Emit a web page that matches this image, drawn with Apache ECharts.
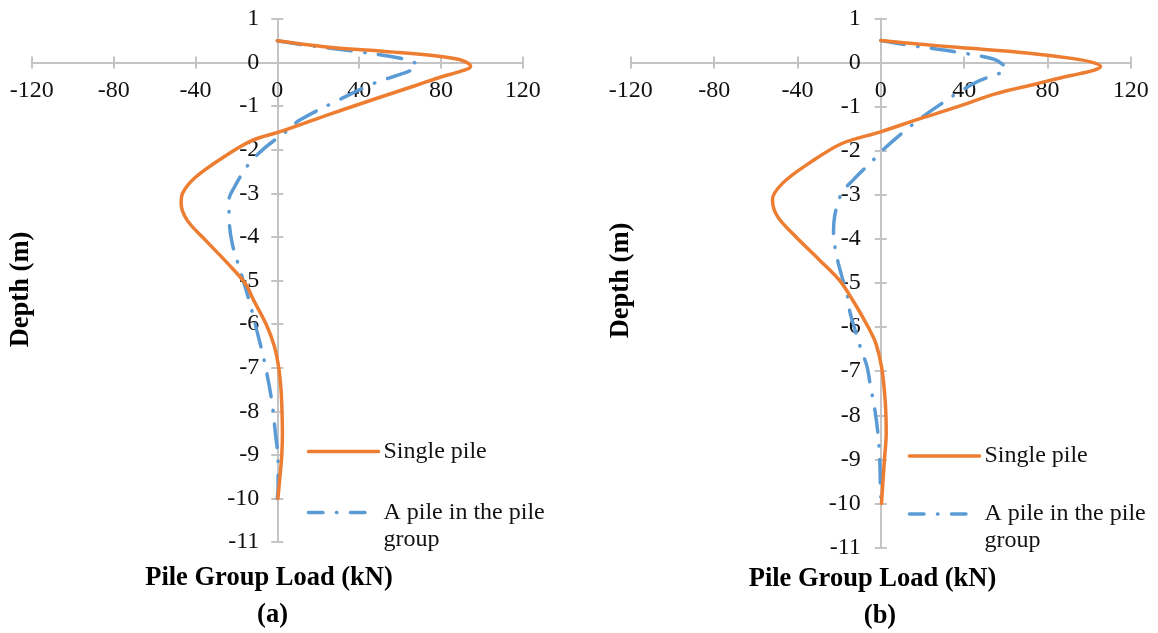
<!DOCTYPE html>
<html>
<head>
<meta charset="utf-8">
<script src="https://cdn.jsdelivr.net/npm/echarts@6/dist/echarts.min.js"></script>
<style>
html,body{margin:0;padding:0;background:#fff;}
#chart{width:1158px;height:633px;}
</style>
</head>
<body>
<div id="chart"></div>
<script>
// ---- Data (load in kN vs depth in m) ----
const xTicks = [-120, -80, -40, 0, 40, 80, 120];
const yTicks = [1, 0, -1, -2, -3, -4, -5, -6, -7, -8, -9, -10, -11];
const seriesNames = ['Single pile', 'A pile in the pile group'];

// (a) single pile
const aSingleDepth = [0.5, 0.36, 0.24, 0.14, 0.07, -0.02, -0.09, -0.18, -0.33, -0.52, -0.83, -1.21, -1.59, -1.78, -2.13, -2.63, -3.0, -3.24, -3.62, -4.08, -4.62, -5.08, -5.46, -6.0, -6.5, -7.0, -7.5, -8.0, -8.5, -9.0, -9.5, -10];
const aSingleLoad  = [0, 24, 57, 80, 89, 93.5, 94.5, 91, 80, 68, 48, 24, 1, -12, -25, -40, -46.3, -47, -44, -35, -24, -15.5, -11.5, -5.5, -1.5, 0.7, 1.8, 2.3, 2.5, 2.2, 1.3, 0.3];
// (a) pile in group
const aGroupDepth = [0.5, 0.4, 0.27, 0.13, 0.01, -0.06, -0.14, -0.25, -0.48, -0.86, -1.32, -1.63, -1.94, -2.32, -2.86, -3.16, -3.62, -4.16, -4.7, -5.15, -5.5, -6.15, -6.84, -7.76, -8.52, -9.14, -9.75, -10];
const aGroupLoad  = [0, 14, 36, 57, 66.5, 68.5, 67, 61.5, 47, 30, 11, 3, -5.7, -13.8, -21, -23.6, -23.5, -22, -18.6, -15.7, -13.5, -10, -6.4, -2.7, -0.9, 0.4, 0.4, 0];
// (b) single pile
const bSingleDepth = [0.5, 0.42, 0.34, 0.22, 0.09, 0.0, -0.09, -0.17, -0.25, -0.36, -0.48, -0.71, -1.0, -1.3, -1.57, -1.83, -2.28, -2.74, -3.11, -3.49, -3.95, -4.47, -4.93, -5.38, -6.02, -6.38, -6.9, -7.66, -8.4, -9.0, -9.6, -10];
const bSingleLoad  = [0, 18, 38, 70, 92.5, 102, 105.5, 102.5, 95.5, 85, 75, 55, 37, 17, 0, -18.4, -34.3, -47.2, -52, -49.6, -40.8, -29.6, -20, -13.6, -5.8, -2.3, 0.35, 2.1, 2.6, 1.75, 0.9, 0.35];
// (b) pile in group
const bGroupDepth = [0.5, 0.39, 0.25, 0.08, -0.04, -0.16, -0.29, -0.44, -0.7, -0.92, -1.2, -1.53, -1.98, -2.21, -2.66, -2.96, -3.42, -3.87, -4.4, -4.85, -5.3, -5.62, -6.0, -6.53, -6.9, -7.36, -7.8, -8.4, -9.0, -9.6, -9.85];
const bGroupLoad  = [0, 14, 35, 54, 58.5, 60, 54, 46, 36.5, 29.5, 21, 12, 1, -3.6, -13.2, -18.7, -21.9, -22.7, -21.1, -18.7, -16, -15, -12.8, -9.3, -6.6, -4.9, -3.1, -1.4, -0.5, -0.2, 0];

function zip(loads, depths) { return loads.map((v, i) => [v, depths[i]]); }

const FONT = '"Liberation Serif", "Times New Roman", serif';
const ORANGE = '#ED7D31';
const BLUE = '#5B9BD5';
const AXIS = '#C4C4C4';
const DASHDOT = [23.5, 13.5, 0.5, 13.5];
const DASHDOT_LEGEND = [14.5, 13.5, 0.5, 13.5];

const X_MIN = xTicks[0], X_MAX = xTicks[xTicks.length - 1];
const Y_MIN = yTicks[yTicks.length - 1], Y_MAX = yTicks[0];

const grids = [
  { left: 31.8, top: 19, width: 491, height: 523, containLabel: false, outerBoundsMode: 'none' },
  { left: 630.8, top: 18.5, width: 500, height: 529, containLabel: false, outerBoundsMode: 'none' }
];

const chart = echarts.init(document.getElementById('chart'), null, { renderer: 'canvas' });

// axes crossing at the origin: shift each axis from its grid edge to the zero line
function xAxisFor(gi, overlay, labelMargin) {
  const g = grids[gi % 2];
  const off = -g.height * (0 - Y_MIN) / (Y_MAX - Y_MIN);
  return {
    type: 'value', gridIndex: gi, min: X_MIN, max: X_MAX, interval: 40,
    position: 'bottom', offset: off,
    axisLine: { show: !overlay, onZero: false, lineStyle: { color: AXIS, width: 2 } },
    axisTick: { show: true, inside: overlay, length: 6, lineStyle: { color: AXIS, width: 2 } },
    axisLabel: { show: !overlay, margin: labelMargin, color: '#111', fontSize: 24, fontFamily: FONT, showMinLabel: true, showMaxLabel: true, hideOverlap: false },
    splitLine: { show: false }
  };
}
function yAxisFor(gi, overlay, labelMargin) {
  const g = grids[gi % 2];
  const off = -g.width * (0 - X_MIN) / (X_MAX - X_MIN);
  return {
    type: 'value', gridIndex: gi, min: Y_MIN, max: Y_MAX, interval: 1,
    position: 'left', offset: off,
    axisLine: { show: !overlay, onZero: false, lineStyle: { color: AXIS, width: 2 } },
    axisTick: { show: true, inside: overlay, length: 6, lineStyle: { color: AXIS, width: 2 } },
    axisLabel: { show: !overlay, margin: labelMargin, color: '#111', fontSize: 24, fontFamily: FONT, showMinLabel: true, showMaxLabel: true, hideOverlap: false },
    splitLine: { show: false }
  };
}

function lineSeries(name, gi, data, color, dashed) {
  return {
    type: 'line', name: name, xAxisIndex: gi, yAxisIndex: gi, data: data,
    symbol: 'none', smooth: 0.35, z: 3,
    lineStyle: { color: color, width: 3.5, type: dashed ? DASHDOT : 'solid', cap: 'round' },
    itemStyle: { color: color },
    emphasis: { disabled: true }
  };
}

function legendFor(left, top, name, color, dashed, label) {
  return {
    left: left, top: top, orient: 'vertical', padding: 0, selectedMode: false,
    data: [name], itemWidth: 70, itemHeight: 14, itemGap: 0,
    formatter: function () { return label; },
    itemStyle: { opacity: 0 },
    lineStyle: { width: 3.5, color: color, type: dashed ? DASHDOT_LEGEND : 'solid', cap: 'round', opacity: 1 },
    textStyle: { fontFamily: FONT, fontSize: 24, color: '#111', lineHeight: 27 }
  };
}

function txt(x, y, text, bold, rot) {
  return {
    type: 'text', x: x, y: y, rotation: rot || 0, silent: true,
    style: {
      text: text, font: (bold ? 'bold 26.5px ' : '24px ') + FONT,
      fill: '#000', align: 'center', verticalAlign: 'middle', textAlign: 'center', textVerticalAlign: 'middle'
    }
  };
}

const option = {
  backgroundColor: '#fff',
  animation: false,
  grid: [grids[0], grids[1], grids[0], grids[1]],
  xAxis: [xAxisFor(0, false, 16), xAxisFor(1, false, 16), xAxisFor(2, true, 16), xAxisFor(3, true, 16)],
  yAxis: [yAxisFor(0, false, 18), yAxisFor(1, false, 20), yAxisFor(2, true, 18), yAxisFor(3, true, 20)],
  legend: [
    legendFor(306.7, 438, seriesNames[0], ORANGE, false, 'Single pile'),
    legendFor(306.7, 472, seriesNames[1], BLUE, true, '\nA pile in the pile\ngroup'),
    legendFor(907.7, 442.5, seriesNames[0], ORANGE, false, 'Single pile'),
    legendFor(907.7, 473.5, seriesNames[1], BLUE, true, '\nA pile in the pile\ngroup')
  ],
  series: [
    lineSeries(seriesNames[1], 0, zip(aGroupLoad, aGroupDepth), BLUE, true),
    lineSeries(seriesNames[0], 0, zip(aSingleLoad, aSingleDepth), ORANGE, false),
    lineSeries(seriesNames[1], 1, zip(bGroupLoad, bGroupDepth), BLUE, true),
    lineSeries(seriesNames[0], 1, zip(bSingleLoad, bSingleDepth), ORANGE, false)
  ],
  graphic: [
    txt(21, 289.5, 'Depth (m)', true, Math.PI / 2),
    txt(621, 280.5, 'Depth (m)', true, Math.PI / 2),
    txt(269, 578, 'Pile Group Load (kN)', true),
    txt(872.5, 579, 'Pile Group Load (kN)', true),
    txt(272.5, 615, '(a)', true),
    txt(880, 616, '(b)', true)
  ]
};
chart.setOption(option);
</script>
</body>
</html>
